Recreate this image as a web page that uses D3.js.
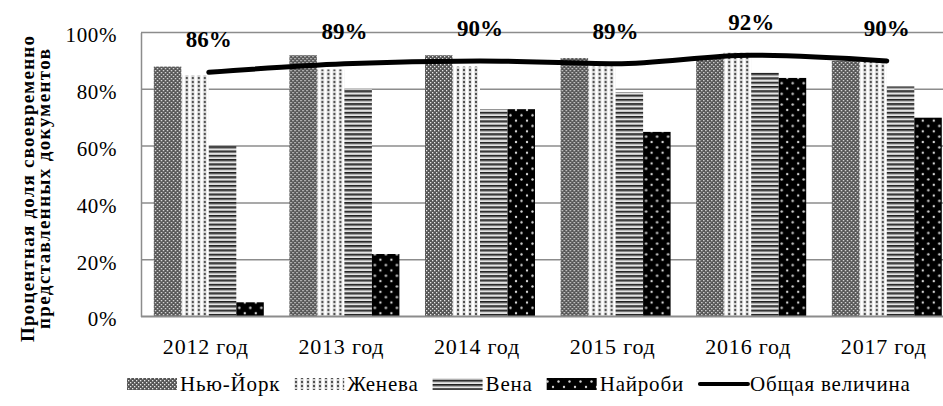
<!DOCTYPE html>
<html>
<head>
<meta charset="utf-8">
<script src="https://cdn.jsdelivr.net/npm/d3@7"></script>
<style>
  html, body { margin: 0; padding: 0; background: #fff; }
  svg { display: block; }
  text { font-family: "Liberation Serif", "Times New Roman", serif; fill: #000; }
</style>
</head>
<body>
<svg id="chart" width="943" height="406"></svg>
<script>
// Share of documents submitted on time, by duty station
const years = ["2012 год", "2013 год", "2014 год", "2015 год", "2016 год", "2017 год"];
const newYork = [88, 92, 92, 91, 91, 90];
const geneva  = [85, 87, 88, 88, 93, 90];
const vienna  = [60, 80, 73, 79, 86, 81];
const nairobi = [5, 22, 73, 65, 84, 70];
const overall = [86, 89, 90, 89, 92, 90];
const yTicks = [0, 20, 40, 60, 80, 100];
const seriesNames = ["Нью-Йорк", "Женева", "Вена", "Найроби"];
const lineName = "Общая величина";
const yTitle = ["Процентная доля своевременно", "представленных документов"];

const series = [newYork, geneva, vienna, nairobi];
const patternIds = ["pNY", "pGE", "pVI", "pNA"];

const svg = d3.select("#chart");
const defs = svg.append("defs");

// Fill patterns
{
  // dense dark grey checker
  const p = defs.append("pattern").attr("id", "pNY").attr("patternUnits", "userSpaceOnUse")
    .attr("width", 4).attr("height", 4);
  p.append("rect").attr("width", 4).attr("height", 4).attr("fill", "#555");
  p.append("rect").attr("x", 0).attr("y", 0).attr("width", 1.3).attr("height", 1.3).attr("fill", "#e8e8e8");
  p.append("rect").attr("x", 2).attr("y", 2).attr("width", 1.3).attr("height", 1.3).attr("fill", "#e8e8e8");
}
{
  // light dotted columns
  const p = defs.append("pattern").attr("id", "pGE").attr("patternUnits", "userSpaceOnUse")
    .attr("width", 6).attr("height", 4);
  p.append("rect").attr("width", 6).attr("height", 4).attr("fill", "#ffffff");
  p.append("rect").attr("x", 0.5).attr("y", 0).attr("width", 3).attr("height", 4).attr("fill", "#d0d0d0");
  p.append("circle").attr("cx", 2).attr("cy", 2).attr("r", 1.1).attr("fill", "#333");
}
{
  // horizontal stripes
  const p = defs.append("pattern").attr("id", "pVI").attr("patternUnits", "userSpaceOnUse")
    .attr("width", 4).attr("height", 4.3);
  p.append("rect").attr("width", 4).attr("height", 4.3).attr("fill", "#e6e6e6");
  p.append("rect").attr("y", 0).attr("width", 4).attr("height", 1.6).attr("fill", "#1e1e1e");
  p.append("rect").attr("y", 1.6).attr("width", 4).attr("height", 1).attr("fill", "#8a8a8a");
}
{
  // black with sparse white dots
  const p = defs.append("pattern").attr("id", "pNA").attr("patternUnits", "userSpaceOnUse")
    .attr("width", 11).attr("height", 10.7);
  p.append("rect").attr("width", 11).attr("height", 10.7).attr("fill", "#000");
  p.append("circle").attr("cx", 3).attr("cy", 3).attr("r", 1.2).attr("fill", "#d8d8d8");
  p.append("circle").attr("cx", 8.5).attr("cy", 8.3).attr("r", 1.2).attr("fill", "#d8d8d8");
}

// Scales
const x = d3.scaleBand().domain(years).range([141, 954.6]).padding(0);
const y = d3.scaleLinear().domain([0, 100]).range([316.5, 32.5]);
const barW = 27.5;
const xs = d3.scaleBand().domain(d3.range(series.length))
  .range([-barW * series.length / 2, barW * series.length / 2]).padding(0);
const cx = yr => x(yr) + x.bandwidth() / 2;

// Gridlines
svg.append("g").selectAll("line").data(yTicks.filter(t => t > 0)).join("line")
  .attr("x1", 141).attr("x2", 943)
  .attr("y1", d => y(d)).attr("y2", d => y(d))
  .attr("stroke", "#8c8c8c").attr("stroke-width", 1.5);

// Y axis labels
const yAxis = d3.axisLeft(y).tickValues(yTicks).tickFormat(d => d + "%").tickSize(0).tickPadding(24);
const yg = svg.append("g").attr("transform", "translate(141,0)").call(yAxis);
yg.select(".domain").attr("stroke", "#8c8c8c").attr("stroke-width", 1.5);
yg.selectAll("text").style("font-size", "21px").style("letter-spacing", "0.6px").attr("dy", "0.45em")
  .style("font-family", "'Liberation Serif', 'Times New Roman', serif");

// Bars
const groups = svg.append("g").selectAll("g").data(years).join("g")
  .attr("transform", d => `translate(${cx(d)},0)`);
groups.selectAll("rect").data((yr, i) => series.map((s, k) => ({ k, v: s[i] }))).join("rect")
  .attr("x", d => xs(d.k))
  .attr("width", xs.bandwidth())
  .attr("y", d => y(d.v))
  .attr("height", d => y(0) - y(d.v))
  .attr("fill", d => `url(#${patternIds[d.k]})`);

// X axis
const xAxis = d3.axisBottom(x).tickSize(0).tickPadding(22);
const xg = svg.append("g").attr("transform", `translate(0,${y(0)})`).call(xAxis);
xg.select(".domain").attr("d", `M141,0H943`).attr("stroke", "#8c8c8c").attr("stroke-width", 2);
xg.selectAll("text").style("font-size", "22px").style("letter-spacing", "0.8px").attr("dx", "-3")
  .style("font-family", "'Liberation Serif', 'Times New Roman', serif");

// Overall line
const line = d3.line().x((d, i) => cx(years[i])).y(d => y(d)).curve(d3.curveMonotoneX);
svg.append("path").datum(overall).attr("d", line)
  .attr("fill", "none").attr("stroke", "#000").attr("stroke-width", 5)
  .attr("stroke-linecap", "round").attr("stroke-linejoin", "round");

// Value labels
svg.append("g").selectAll("text").data(overall).join("text")
  .attr("x", (d, i) => cx(years[i]))
  .attr("y", d => y(d) - 25)
  .attr("text-anchor", "middle")
  .style("font-size", "23px").style("font-weight", "bold")
  .text(d => d + "%");

// Y title
const titleLen = [306, 280];
const tg = svg.append("g").attr("transform", "translate(0,189) rotate(-90)");
tg.selectAll("text").data(yTitle).join("text")
  .attr("x", 0).attr("y", (d, i) => 34 + i * 16)
  .attr("text-anchor", "middle")
  .attr("textLength", (d, i) => titleLen[i]).attr("lengthAdjust", "spacing")
  .style("font-size", "19px").style("font-weight", "bold")
  .text(d => d);

// Legend
const leg = svg.append("g").attr("transform", "translate(0,384)");
let lx = 127;
const swW = 50, swH = 12;
seriesNames.forEach((name, k) => {
  leg.append("rect").attr("x", lx).attr("y", -swH / 2).attr("width", swW).attr("height", swH)
    .attr("fill", `url(#${patternIds[k]})`);
  const t = leg.append("text").attr("x", lx + swW + 3).attr("y", 0).attr("dy", "0.35em")
    .style("font-size", "21px").style("letter-spacing", "0.8px").text(name);
  lx += swW + 3 + t.node().getComputedTextLength() + 14;
});
leg.append("line").attr("x1", lx + 2).attr("x2", lx + swW).attr("y1", 0).attr("y2", 0)
  .attr("stroke", "#000").attr("stroke-width", 4).attr("stroke-linecap", "round");
leg.append("text").attr("x", lx + swW + 2).attr("y", 0).attr("dy", "0.35em")
  .style("font-size", "21px").style("letter-spacing", "0.8px").text(lineName);
</script>
</body>
</html>
